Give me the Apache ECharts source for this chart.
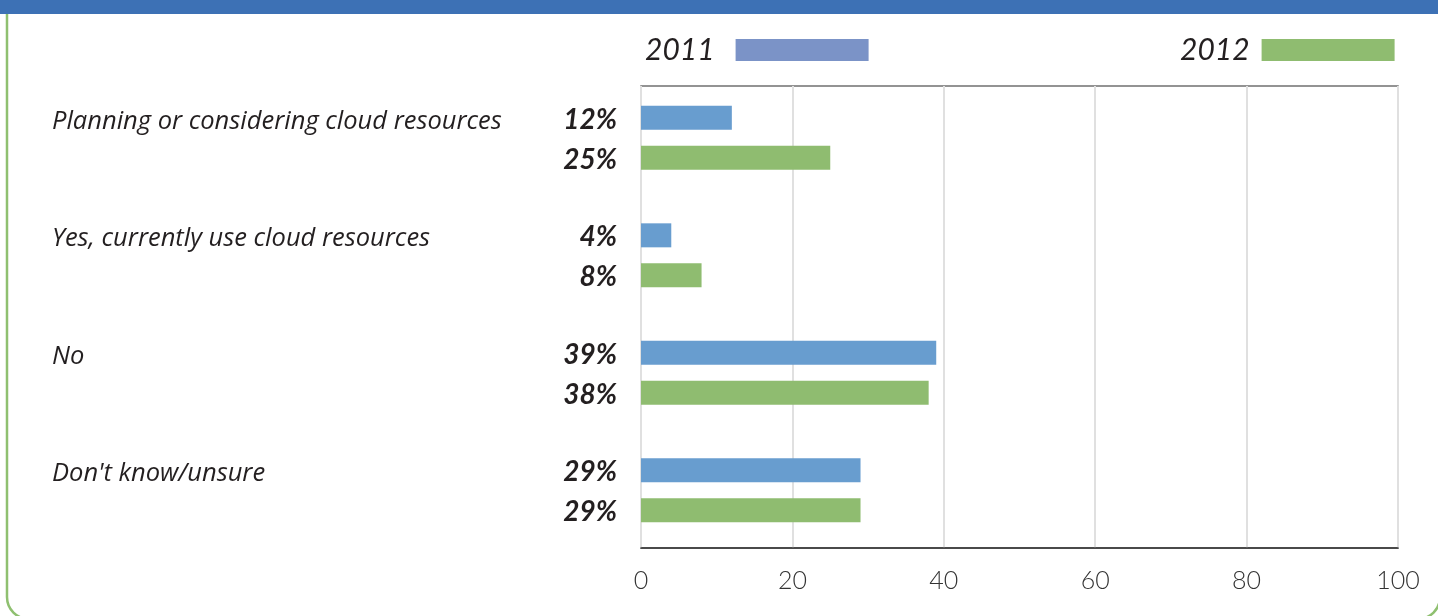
<!DOCTYPE html>
<html>
<head>
<meta charset="utf-8">
<title>Cloud resources 2011 vs 2012</title>
<script src="https://cdn.jsdelivr.net/npm/echarts@6/dist/echarts.min.js"></script>
<style>
  html, body { margin: 0; padding: 0; background: #ffffff; }
  #chart { width: 1438px; height: 616px; }
</style>
</head>
<body>
<div id="chart"></div>
<script>
// Survey answers, top to bottom
const categories = [
  'Planning or considering cloud resources',
  'Yes, currently use cloud resources',
  'No',
  "Don't know/unsure"
];
const values2011 = [12, 4, 39, 29];
const values2012 = [25, 8, 38, 29];
const seriesNames = ['2011', '2012'];
const xTicks = [0, 20, 40, 60, 80, 100];

const FONT = 'Lato, "Open Sans", "DejaVu Sans", sans-serif';
const CAT_FONT = '"Open Sans", Lato, "DejaVu Sans", sans-serif';
const TEXT = '#231f20';
const BAR_2011 = '#689dcf';
const BAR_2012 = '#8fbc70';
const LEGEND_2011 = '#7b93c7';

const chart = echarts.init(document.getElementById('chart'), null, { renderer: 'canvas' });

const pctLabel = {
  show: true,
  position: 'left',
  distance: 24,
  offset: [0, 2],
  formatter: p => p.value + '%',
  fontFamily: FONT,
  fontSize: 28,
  fontWeight: 'bold',
  fontStyle: 'italic',
  color: TEXT
};

chart.setOption({
  animation: false,
  backgroundColor: '#ffffff',
  graphic: [
    {
      type: 'rect',
      z: 0,
      shape: { x: 7, y: -30, width: 1433, height: 649, r: 22 },
      style: { fill: 'none', stroke: '#8fc070', lineWidth: 2.5 }
    },
    {
      type: 'rect',
      z: 1,
      shape: { x: 0, y: 0, width: 1438, height: 14 },
      style: { fill: '#3d71b5' }
    }
  ],
  legend: [
    {
      data: [{ name: seriesNames[0], itemStyle: { color: LEGEND_2011 } }],
      left: 645, top: 35, padding: 0,
      align: 'right', icon: 'rect',
      itemWidth: 133, itemHeight: 22,
      selectedMode: false,
      textStyle: { fontFamily: FONT, fontSize: 30, fontStyle: 'italic', color: TEXT, padding: [0, 16, 0, 0] }
    },
    {
      data: [{ name: seriesNames[1], itemStyle: { color: BAR_2012 } }],
      left: 1180, top: 35, padding: 0,
      align: 'right', icon: 'rect',
      itemWidth: 133, itemHeight: 22,
      selectedMode: false,
      textStyle: { fontFamily: FONT, fontSize: 30, fontStyle: 'italic', color: TEXT, padding: [0, 7, 0, 0] }
    }
  ],
  grid: [
    // plot frame with the value axis
    { left: 641, top: 86, width: 757, height: 462, show: true, borderColor: '#707070', borderWidth: 1.5, backgroundColor: 'transparent' },
    // bar rows
    { left: 641, top: 79, width: 757, height: 470, show: false }
  ],
  xAxis: [
    {
      gridIndex: 0,
      type: 'value',
      min: xTicks[0], max: xTicks[xTicks.length - 1], interval: 20,
      axisLine: { show: true, lineStyle: { color: '#333333', width: 1.5 } },
      axisTick: { show: false },
      splitLine: { show: true, lineStyle: { color: '#e0e0e0', width: 2 } },
      axisLabel: { margin: 20, fontFamily: FONT, fontSize: 25, fontWeight: 300, color: '#333333' }
    },
    {
      gridIndex: 1,
      type: 'value',
      min: xTicks[0], max: xTicks[xTicks.length - 1],
      show: false
    }
  ],
  yAxis: [
    {
      gridIndex: 0,
      type: 'value',
      show: false
    },
    {
      gridIndex: 1,
      type: 'category',
      data: categories,
      inverse: true,
      axisLine: { show: false },
      axisTick: { show: false },
      splitLine: { show: false },
      axisLabel: {
        align: 'left',
        verticalAlign: 'bottom',
        lineHeight: 33,
        margin: 589,
        fontFamily: CAT_FONT,
        fontSize: 25.5,
        fontStyle: 'italic',
        color: TEXT
      }
    }
  ],
  series: [
    {
      name: seriesNames[0],
      type: 'bar',
      xAxisIndex: 1, yAxisIndex: 1,
      data: values2011,
      barWidth: 24,
      barGap: '66%',
      itemStyle: { color: BAR_2011 },
      label: pctLabel
    },
    {
      name: seriesNames[1],
      type: 'bar',
      xAxisIndex: 1, yAxisIndex: 1,
      data: values2012,
      barWidth: 24,
      itemStyle: { color: BAR_2012 },
      label: pctLabel
    }
  ]
});
</script>
</body>
</html>
